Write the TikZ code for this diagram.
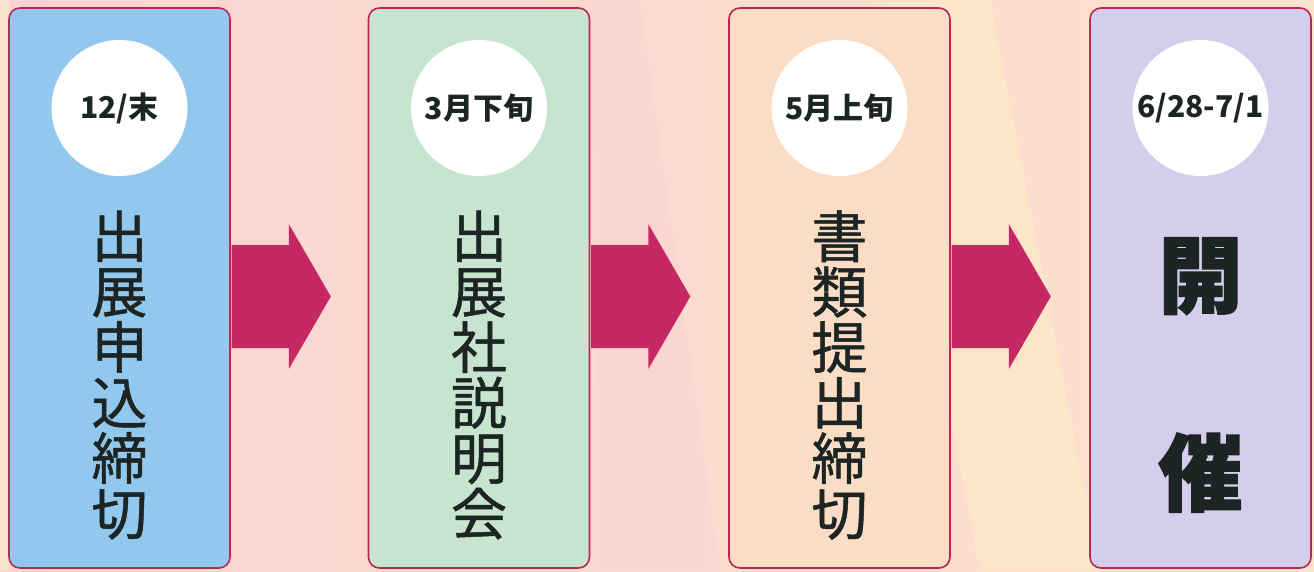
\documentclass[tikz,border=0pt]{standalone}
\usepackage{fontspec}
\newfontfamily\jpfont{Noto Sans CJK JP}
\newfontfamily\jpmid[FakeBold=0.9]{Noto Sans CJK JP}
\newfontfamily\jpheavy[BoldFeatures={FakeBold=2}]{Noto Sans CJK JP}
\usetikzlibrary{calc, positioning}
\definecolor{rimred}{RGB}{190,36,84}
\definecolor{flowred}{RGB}{198,40,100}
\definecolor{inkdark}{RGB}{28,36,36}
\definecolor{bgpink}{RGB}{250,212,210}
\definecolor{bgpeach}{RGB}{251,226,204}
\definecolor{bgyellow}{RGB}{253,236,196}
\definecolor{fillblue}{RGB}{146,200,238}
\definecolor{fillgreen}{RGB}{198,228,206}
\definecolor{fillpeach}{RGB}{251,220,196}
\definecolor{filllilac}{RGB}{212,205,236}
\tikzset{
    stagebox/.style={rectangle, draw=rimred, line width=1.6pt, rounded corners=11pt, minimum width=221pt, minimum height=560pt, inner sep=0pt},
    datecirc/.style={circle, fill=white, minimum size=136pt, inner sep=0pt, text=inkdark, font=\jpfont\bfseries\fontsize{30}{32}\selectfont},
    vtext/.style={align=center, inner sep=0pt, text=inkdark, font=\jpmid\fontsize{56}{55.5}\selectfont},
    heldtext/.style={align=center, inner sep=0pt, text=inkdark, font=\jpheavy\bfseries\fontsize{84}{198}\selectfont},
    flow/.style={fill=flowred}
}
\begin{document}
\begin{tikzpicture}[x=1pt, y=-1pt]
        \useasboundingbox (0,0) rectangle (1314,571);
        % background
        \shade[left color=bgpink, right color=bgpeach] (0,0) rectangle (1314,571);
        \fill[bgpeach] (0,0) rectangle (9,571);
        \fill[bgyellow, opacity=0.5] (870,0) -- (990,0) -- (1100,571) -- (980,571) -- cycle;
        \fill[bgpink, opacity=0.6] (590,0) -- (640,0) -- (720,571) -- (600,571) -- cycle;

        % stages
        \node (box1) [stagebox, fill=fillblue] at (119.5, 288) {};
        \node (box2) [stagebox, fill=fillgreen] at (479, 288) {};
        \node (box3) [stagebox, fill=fillpeach] at (839.5, 288) {};
        \node (box4) [stagebox, fill=filllilac] at (1200.5, 288) {};

        % dates
        \node (date1) [datecirc] at (119.5, 108) {12/末};
        \node (date2) [datecirc] at (479, 108) {3月下旬};
        \node (date3) [datecirc] at (839.5, 108) {5月上旬};
        \node (date4) [datecirc] at (1200.5, 108) {6/28-7/1};

        % tasks
        \node (task1) [vtext] at (119.5, 375) {出\\展\\申\\込\\締\\切};
        \node (task2) [vtext] at (479, 375) {出\\展\\社\\説\\明\\会};
        \node (task3) [vtext] at (839.5, 375) {書\\類\\提\\出\\締\\切};
        \node (held) [heldtext] at (1200.5, 375) {開\\催};

        % arrows
        \foreach \a in {1,2,3} {
            \fill[flow] ($(box\a.east)+(0.8,-43)$) -- ($(box\a.east)+(58,-43)$) -- ($(box\a.east)+(58,-64)$)
                -- ($(box\a.east)+(100,8.5)$) -- ($(box\a.east)+(58,81)$) -- ($(box\a.east)+(58,60)$)
                -- ($(box\a.east)+(0.8,60)$) -- cycle;
        }
    \end{tikzpicture}
\end{document}
